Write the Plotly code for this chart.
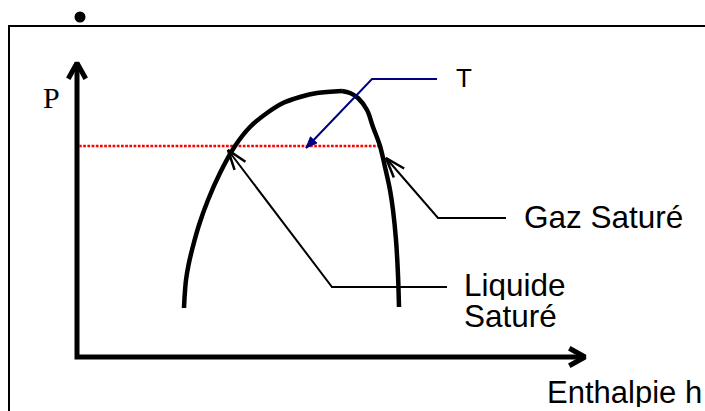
import math
import plotly.graph_objects as go

W, H = 705, 411

# ---- data (diagram coordinates, y grows downward) ----
dome_left_x = [184, 184.7, 186, 188.5, 192, 199, 208, 220, 235, 250, 267, 283, 300, 317, 342]
dome_left_y = [308, 295, 280, 265, 250, 225, 200, 173, 146, 127, 113, 103, 97, 93, 91]
dome_right_x = [342, 350, 358, 367, 373, 380, 385, 390, 393, 396, 398, 399]
dome_right_y = [91, 93, 98, 110, 127, 146, 167, 190, 210, 240, 275, 307]

axis_origin = (77, 357)
axis_y_tip = (77, 63)
axis_x_tip = (585, 357)

isobar_x = [79, 380]
isobar_y = [146, 146]

# leaders: (tip, elbow, end of horizontal)
gaz_leader = [(386, 158), (438, 218), (506, 218)]
liq_leader = [(228, 150), (332, 287), (447, 287)]
t_leader = [(306, 148), (372, 79), (437, 79)]

labels = [
    ("Gaz Saturé", 523, 216.5, 31.5),
    ("Liquide", 463, 284.5, 31.5),
    ("Saturé", 463, 315.5, 31.5),
    ("Enthalpie h", 546, 392, 31),
    ("T", 455, 77.5, 26),
]

BLACK = "#000000"
NAVY = "#000080"
RED = "#FF0000"


def wings(tip, tail, length, angle_deg):
    dx, dy = tail[0] - tip[0], tail[1] - tip[1]
    n = math.hypot(dx, dy)
    ux, uy = dx / n, dy / n
    pts = []
    for s in (1, -1):
        a = math.radians(angle_deg) * s
        wx = ux * math.cos(a) - uy * math.sin(a)
        wy = ux * math.sin(a) + uy * math.cos(a)
        pts.append((tip[0] + wx * length, tip[1] + wy * length))
    return pts


fig = go.Figure()


def line(xs, ys, color=BLACK, width=2, dash="solid", shape="linear"):
    fig.add_trace(go.Scatter(x=xs, y=ys, mode="lines",
                             line=dict(color=color, width=width, dash=dash, shape=shape),
                             hoverinfo="skip", showlegend=False))


# frame
line([9, 9, W + 2], [H + 2, 26, 26], width=2)

# bullet
fig.add_trace(go.Scatter(x=[80], y=[17], mode="markers",
                         marker=dict(size=11, color=BLACK), hoverinfo="skip", showlegend=False))

# axes with open arrowheads
line([axis_y_tip[0], axis_origin[0], axis_x_tip[0]],
     [axis_y_tip[1], axis_origin[1], axis_x_tip[1]], width=5)
for tip, tail in ((axis_y_tip, axis_origin), (axis_x_tip, axis_origin)):
    w1, w2 = wings(tip, tail, 18, 29)
    line([w1[0], tip[0], w2[0]], [w1[1], tip[1], w2[1]], width=5)

# isobar (red dotted)
line(isobar_x, isobar_y, color=RED, width=2.7, dash="2.7px,1.5px")

# saturation dome
line(dome_left_x, dome_left_y, width=4.5, shape="spline")
line(dome_right_x, dome_right_y, width=4.5, shape="spline")

# black leaders with open arrows
for ld in (gaz_leader, liq_leader):
    line([p[0] for p in ld], [p[1] for p in ld], width=2)
    w1, w2 = wings(ld[0], ld[1], 21, 19)
    line([w1[0], ld[0][0], w2[0]], [w1[1], ld[0][1], w2[1]], width=2.5)

# navy leader with filled arrow
line([p[0] for p in t_leader], [p[1] for p in t_leader], color=NAVY, width=2)
w1, w2 = wings(t_leader[0], t_leader[1], 12, 22)
fig.add_trace(go.Scatter(x=[t_leader[0][0], w1[0], w2[0], t_leader[0][0]],
                         y=[t_leader[0][1], w1[1], w2[1], t_leader[0][1]],
                         mode="lines", fill="toself", fillcolor=NAVY,
                         line=dict(color=NAVY, width=1), hoverinfo="skip", showlegend=False))

annotations = []
for txt, x, y, size in labels:
    annotations.append(dict(text=txt, x=x, y=y, xref="x", yref="y", xanchor="left",
                            yanchor="middle", showarrow=False, height=30, borderpad=0,
                            font=dict(family="Liberation Sans, Arial", size=size, color=BLACK)))
annotations.append(dict(text="P", x=41, y=97, xref="x", yref="y", xanchor="left",
                        yanchor="middle", showarrow=False,
                        font=dict(family="Liberation Serif, Times New Roman", size=30, color=BLACK)))

fig.update_layout(
    width=W, height=H, margin=dict(l=0, r=0, t=0, b=0),
    paper_bgcolor="white", plot_bgcolor="white",
    xaxis=dict(range=[0, W], visible=False, fixedrange=True),
    yaxis=dict(range=[H, 0], visible=False, fixedrange=True),
    annotations=annotations,
)

fig.write_html("out.html", config={"displayModeBar": False},
               post_script="document.body.style.margin='0';")
